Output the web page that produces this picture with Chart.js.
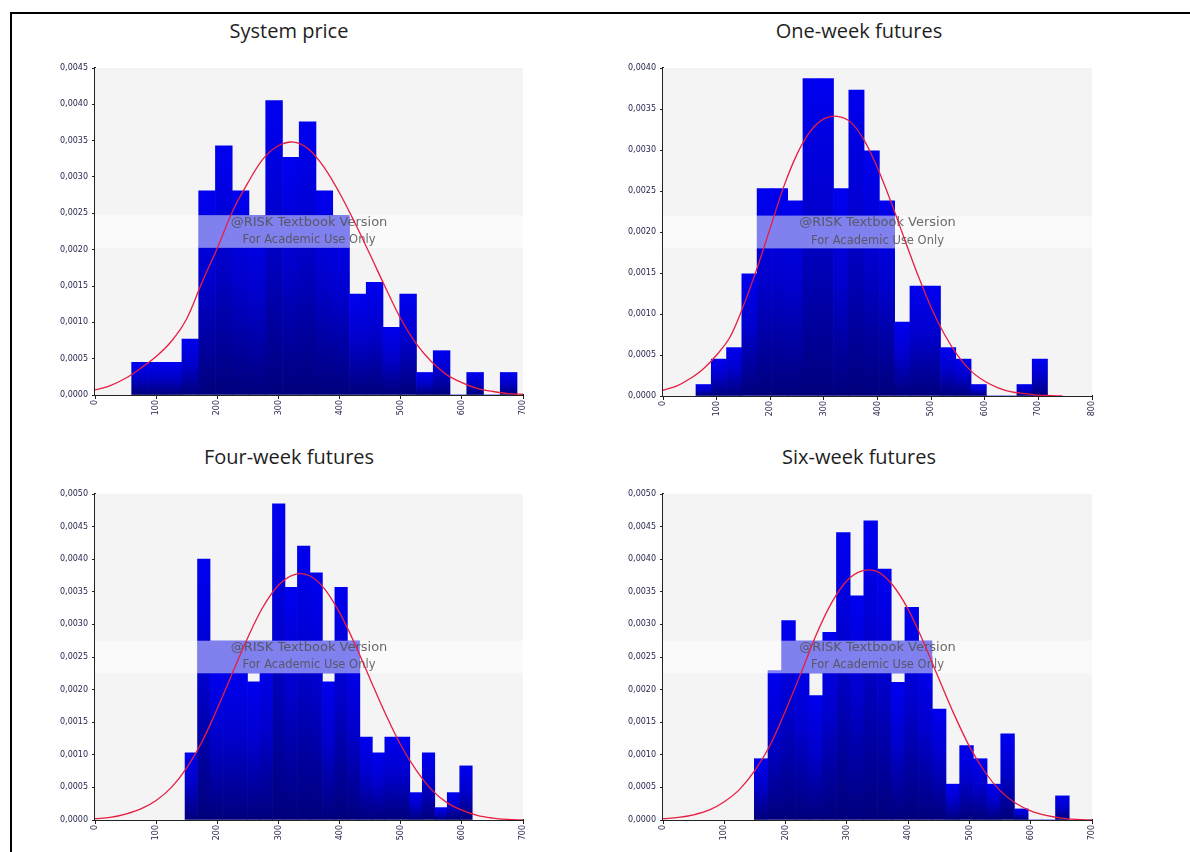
<!DOCTYPE html>
<html>
<head>
<meta charset="utf-8">
<script src="https://cdn.jsdelivr.net/npm/chart.js@4.4.1/dist/chart.umd.min.js"></script>
<style>
  html, body { margin: 0; padding: 0; background: #fff; width: 1190px; height: 852px; overflow: hidden; }
  .frame { position: absolute; left: 10px; top: 12px; width: 1200px; height: 900px; border-left: 2px solid #000; border-top: 2px solid #000; }
  .title { position: absolute; width: 400px; text-align: center; font-family: "Open Sans", sans-serif; font-size: 20px; line-height: 28px; color: #1e1e1e; }
  .panel { position: absolute; width: 510px; height: 380px; }
</style>
</head>
<body>
<div class="frame"></div>

<div class="title" style="left:89px; top:17px">System price</div>
<div class="title" style="left:659px; top:17px">One-week futures</div>
<div class="title" style="left:89px; top:443px">Four-week futures</div>
<div class="title" style="left:659px; top:443px">Six-week futures</div>

<div class="panel" style="left:35px; top:55px"><canvas id="systemPrice"></canvas></div>
<div class="panel" style="left:603px; top:55px"><canvas id="oneWeek"></canvas></div>
<div class="panel" style="left:35px; top:481px"><canvas id="fourWeek"></canvas></div>
<div class="panel" style="left:603px; top:481px"><canvas id="sixWeek"></canvas></div>

<script>
// bins: first edge + bin width, heights = density per bin
const SYS_START = 60;
const SYS_WIDTH = 27.4;
const SYS_HEIGHTS = [0.00045, 0.00045, 0.00045, 0.00077, 0.00281, 0.00343, 0.00281, 0.00245, 0.00405, 0.00327, 0.00376, 0.00281,
  0.00245, 0.00139, 0.00155, 0.00093, 0.00139, 0.00031, 0.00061, 0, 0.00031, 0, 0.00031];

const W1_START = 61.5;
const W1_WIDTH = 28.5;
const W1_HEIGHTS = [0.00014, 0.00045, 0.00059, 0.00149, 0.00253, 0.00253, 0.00238, 0.00387, 0.00387, 0.00253, 0.00373, 0.00299,
  0.00238, 0.00090, 0.00134, 0.00134, 0.00059, 0.00045, 0.00014, 0, 0, 0.00014, 0.00045];

const W4_START = 147.3;
const W4_WIDTH = 20.42;
const W4_HEIGHTS = [0.00103, 0.00400, 0.00231, 0.00231, 0.00231, 0.00212, 0.00250, 0.00485, 0.00357, 0.00420, 0.00379, 0.00212,
  0.00357, 0.00252, 0.00127, 0.00103, 0.00127, 0.00127, 0.00042, 0.00103, 0.00019, 0.00042, 0.00083];

const W6_START = 149;
const W6_WIDTH = 22.34;
const W6_HEIGHTS = [0.00094, 0.00229, 0.00306, 0.00250, 0.00191, 0.00288, 0.00441, 0.00344, 0.00459, 0.00385, 0.00211, 0.00326,
  0.00250, 0.00170, 0.00055, 0.00114, 0.00094, 0.00055, 0.00132, 0.00017, 0, 0, 0.00037];

// fitted normal curves
const CURVE_X = [0, 25, 50, 75, 100, 125, 150, 175, 200, 225, 250, 275, 300, 325, 350, 375, 400, 425, 450, 475, 500,
  525, 550, 575, 600, 625, 650, 675, 700];
const SYS_CURVE = [0.00007, 0.00013, 0.00023, 0.00037, 0.00053, 0.00074, 0.00105, 0.00155, 0.00202, 0.00253, 0.00292, 0.00325,
  0.00343, 0.00348, 0.00338, 0.00313, 0.00278, 0.00237, 0.00193, 0.00148, 0.00105, 0.00071, 0.00046, 0.00028, 0.00017,
  0.00009, 0.00005, 0.00002, 0.00001];
const W1_CURVE_X = [0, 25, 50, 75, 100, 125, 150, 175, 200, 225, 250, 275, 300, 325, 350, 375, 400, 425, 450, 475, 500,
  525, 550, 575, 600, 625, 650, 675, 700, 725, 745];
const W1_CURVE = [0.00007, 0.00012, 0.00021, 0.00033, 0.00050, 0.00072, 0.00110, 0.00155, 0.00205, 0.00255, 0.00295, 0.00323,
  0.00338, 0.00341, 0.00334, 0.00312, 0.00278, 0.00237, 0.00192, 0.00148, 0.00108, 0.00075, 0.00049, 0.00030, 0.00018,
  0.00010, 0.00005, 0.00003, 0.00001, 0.000005, 0];
const W4_CURVE = [0.00002, 0.00004, 0.00009, 0.00017, 0.00030, 0.00050, 0.00080, 0.00120, 0.00171, 0.00226, 0.00280, 0.00327,
  0.00360, 0.00376, 0.00375, 0.00355, 0.00318, 0.00270, 0.00216, 0.00163, 0.00115, 0.00077, 0.00047, 0.00027, 0.00015,
  0.00007, 0.00003, 0.00001, 0];
const W6_CURVE = [0.00002, 0.00004, 0.00008, 0.00015, 0.00028, 0.00047, 0.00076, 0.00115, 0.00168, 0.00225, 0.00284, 0.00333,
  0.00367, 0.00382, 0.00381, 0.00360, 0.00323, 0.00273, 0.00217, 0.00162, 0.00113, 0.00074, 0.00045, 0.00026, 0.00014,
  0.00007, 0.00003, 0.00001, 0];

const TICK_FONT = { family: "DejaVu Sans", size: 8 };
const TICK_COLOR = "#26264e";
const AXIS_COLOR = "#222";

// gray plot area + the "@RISK Textbook Version" band
const watermark = {
  id: "watermark",
  beforeDatasetsDraw(chart) {
    const { ctx, chartArea: a } = chart;
    ctx.save();
    ctx.fillStyle = "#f4f4f4";
    ctx.fillRect(a.left, a.top, a.width, a.height);
    ctx.restore();
  },
  afterDatasetDraw(chart, args) {
    if (args.meta.type !== "bar") return;
    const { ctx, chartArea: a } = chart;
    const top = a.top + a.height * 0.45;
    const bottom = a.top + a.height * 0.55;
    const mid = (top + bottom) / 2;
    const tall = args.meta.data.filter(el => el.base - el.y > 0 && el.y <= mid + 1);

    ctx.save();
    if (tall.length) {
      const first = tall[0];
      const last = tall[tall.length - 1];
      const x0 = first.x - first.width / 2;
      const x1 = last.x + last.width / 2;
      ctx.fillStyle = "#0000dc";
      ctx.fillRect(x0, top, x1 - x0, bottom - top);
    }
    ctx.fillStyle = "rgba(255,255,255,0.5)";
    ctx.fillRect(a.left, top, a.width, bottom - top);

    const cx = (a.left + a.right) / 2;
    ctx.fillStyle = "rgba(80,80,80,0.85)";
    ctx.textAlign = "center";
    ctx.textBaseline = "middle";
    ctx.font = '13px "DejaVu Sans"';
    ctx.fillText("@RISK Textbook Version", cx, a.top + a.height * 0.472);
    ctx.font = '11.5px "DejaVu Sans"';
    ctx.fillText("For Academic Use Only", cx, a.top + a.height * 0.526);
    ctx.restore();
  }
};

const barFill = (context) => {
  const chart = context.chart;
  if (!chart.chartArea || context.type !== "data") return "#0000e0";
  const y = chart.scales.y;
  const top = y.getPixelForValue(context.raw.y);
  const base = y.getPixelForValue(0);
  if (base - top < 1) return "#0000e0";
  const g = chart.ctx.createLinearGradient(0, top, 0, base);
  g.addColorStop(0, "#0000f0");
  g.addColorStop(0.45, "#0000cc");
  g.addColorStop(1, "#00007c");
  return g;
};

function histogram(id, start, width, heights, curveX, curveY, xMax, yMax, pad) {
  const bars = heights.map((h, i) => ({ x: start + (i + 0.5) * width, y: h }));
  const curve = curveX.map((x, i) => ({ x, y: curveY[i] }));

  return new Chart(document.getElementById(id), {
    type: "bar",
    data: {
      datasets: [
        {
          type: "line",
          data: curve,
          borderColor: "#e61e42",
          borderWidth: 1.3,
          pointRadius: 0,
          tension: 0.35,
          fill: false
        },
        {
          type: "bar",
          data: bars,
          backgroundColor: barFill,
          borderWidth: 0,
          barPercentage: 1,
          categoryPercentage: 1,
          grouped: false
        }
      ]
    },
    options: {
      responsive: true,
      maintainAspectRatio: false,
      animation: false,
      layout: { padding: pad },
      plugins: {
        legend: { display: false },
        tooltip: { enabled: false }
      },
      scales: {
        x: {
          type: "linear",
          min: 0,
          max: xMax,
          offset: false,
          grid: { drawOnChartArea: false, offset: false, tickLength: 4, color: AXIS_COLOR },
          border: { color: AXIS_COLOR, width: 2 },
          ticks: {
            stepSize: 100,
            autoSkip: false,
            minRotation: 90,
            maxRotation: 90,
            padding: 1,
            color: TICK_COLOR,
            font: TICK_FONT
          },
          afterFit: (s) => { s.height = 20; s.paddingLeft = 0; s.paddingRight = 0; }
        },
        y: {
          min: 0,
          max: yMax,
          grid: { drawOnChartArea: false, tickLength: 3, color: AXIS_COLOR },
          border: { color: AXIS_COLOR, width: 2 },
          ticks: {
            stepSize: 0.0005,
            padding: 4,
            color: TICK_COLOR,
            font: TICK_FONT,
            callback: (v) => v.toFixed(4).replace(".", ",")
          },
          afterFit: (s) => { s.width = 60; s.paddingTop = 0; s.paddingBottom = 0; }
        }
      }
    },
    plugins: [watermark]
  });
}

histogram("systemPrice", SYS_START, SYS_WIDTH, SYS_HEIGHTS, CURVE_X, SYS_CURVE, 700, 0.0045,
  { left: 0, right: 22, top: 13, bottom: 20 });
histogram("oneWeek", W1_START, W1_WIDTH, W1_HEIGHTS, W1_CURVE_X, W1_CURVE, 800, 0.0040,
  { left: 0, right: 21, top: 13, bottom: 19 });
histogram("fourWeek", W4_START, W4_WIDTH, W4_HEIGHTS, CURVE_X, W4_CURVE, 700, 0.0050,
  { left: 0, right: 22, top: 13, bottom: 21 });
histogram("sixWeek", W6_START, W6_WIDTH, W6_HEIGHTS, CURVE_X, W6_CURVE, 700, 0.0050,
  { left: 0, right: 21, top: 13, bottom: 21 });
</script>
</body>
</html>
